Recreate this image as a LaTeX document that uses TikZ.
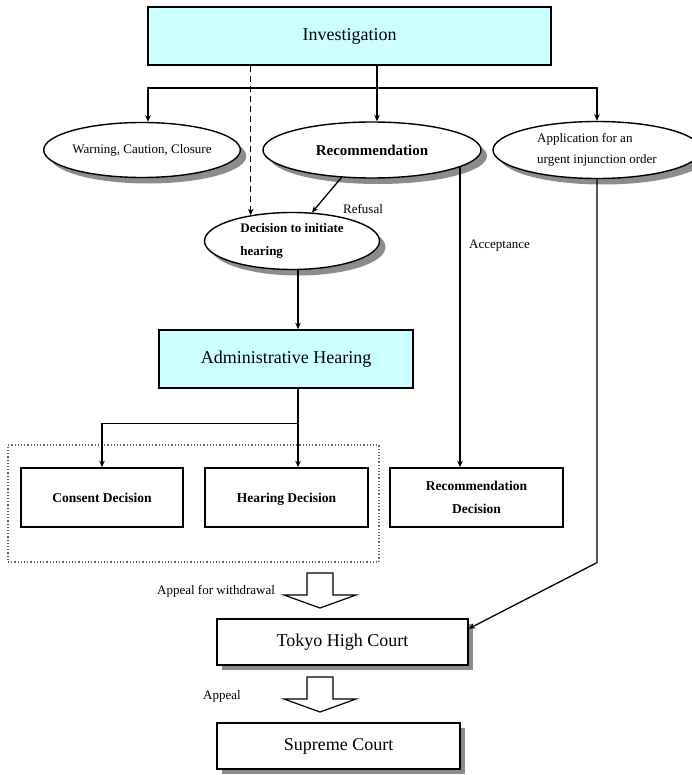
\documentclass[tikz,border=0pt]{standalone}
\usepackage{fontspec}
\setmainfont{Liberation Serif}
\usepackage{xcolor}
\usetikzlibrary{arrows.meta, positioning, shapes.geometric, shadows, calc}

\definecolor{stagecyan}{HTML}{CCFFFF}

\begin{document}
\begin{tikzpicture}[
  x=1pt, y=-1pt,
  arr/.style={-{Stealth[length=6.5pt, width=5.5pt]}, line width=1.3pt},
  box/.style={rectangle, draw, line width=1.5pt, inner sep=0pt, align=center},
  stage/.style={box, fill=stagecyan, font=\fontsize{18}{22}\selectfont},
  decbox/.style={box, font=\fontsize{13.5}{23}\selectfont\bfseries, minimum height=59pt},
  court/.style={box, fill=white, font=\fontsize{18}{22}\selectfont, minimum height=46pt,
    drop shadow={shadow xshift=5pt, shadow yshift=-5pt, fill=black!45, opacity=1}},
  oval/.style={ellipse, draw, line width=1.4pt, fill=white, inner sep=0pt, font=\fontsize{13}{21}\selectfont,
    drop shadow={shadow xshift=6pt, shadow yshift=-6pt, fill=black!45, opacity=1}},
  lbl/.style={inner sep=0pt, font=\fontsize{13}{15}\selectfont},
  blockarr/.style={draw, line width=1.2pt, fill=white, line join=miter}
]
\useasboundingbox (0,0) rectangle (691,775);

\node[stage, minimum width=403pt, minimum height=58pt] (inv) at (349.5,36) {Investigation};

\node[oval, minimum width=196pt, minimum height=55pt] (warn) at (142,150) {Warning, Caution, Closure};
\node[oval, minimum width=218pt, minimum height=56pt, font=\fontsize{15}{18}\selectfont\bfseries] (rec) at (372,150) {Recommendation};
\node[oval, minimum width=208pt, minimum height=57pt, align=left] (app) at (597,150) {Application for an\\urgent injunction order};
\node[oval, minimum width=175pt, minimum height=57pt, align=left, font=\fontsize{13}{23}\selectfont\bfseries] (dec) at (292,241) {Decision to initiate\\hearing};

\node[stage, minimum width=254pt, minimum height=58pt] (adm) at (286,359) {Administrative Hearing};

\node[draw=black!60, dotted, line width=1.2pt, minimum width=371pt, minimum height=117pt] (grp) at (193.5,503.5) {};
\node[decbox, minimum width=162pt] (cons) at (102,497.5) {Consent Decision\strut};
\node[decbox, minimum width=163pt] (hear) at (286.5,497.5) {Hearing Decision\strut};
\node[decbox, minimum width=173pt] (recdec) at (476.5,497.5) {Recommendation\\Decision};

\node[court, minimum width=251pt] (tokyo) at (342.5,642) {Tokyo High Court};
\node[court, minimum width=243pt] (sup) at (338.5,746) {Supreme Court};

\node[lbl, anchor=west] (refusal) at (343,209) {Refusal};
\node[lbl, anchor=west] (accept) at (469,246) {Acceptance};
\node[lbl, anchor=west] (withdraw) at (157,591) {Appeal for withdrawal};
\node[lbl, anchor=west] (appeal) at (203,696) {Appeal};

\coordinate (split) at (377,88);
\coordinate (spine) at (298,0);

\draw[line width=1.3pt] (inv.south -| split) -- (split);
\draw[arr] (split) -- (split |- rec.north);
\draw[arr] (split) -| ([xshift=6pt]warn.north);
\draw[arr] (split) -| (app.north);
\draw[arr, dash pattern=on 6pt off 4pt] (inv.south -| dec.148) -- (dec.148);
\draw[arr] (rec.222) -- (dec.55);
\draw[arr] (rec.-11) -- (rec.-11 |- recdec.north);
\draw[arr] (app.south) -- (app.south |- grp.south) -- ($(tokyo.north east)!0.22!(tokyo.south east)$);
\draw[arr] (dec.south -| spine) -- (adm.north -| spine);
\draw[arr] (adm.south -| spine) -- (hear.north -| spine);
\draw[arr] (adm.south -| spine) -- ++(0,35) -| (cons.north);

\foreach \t in {573,677}
  \draw[blockarr, shift={(0,\t)}] (307,0) -- (333,0) -- (333,22) -- (356,22) -- (320,35) -- (284,22) -- (307,22) -- cycle;
\end{tikzpicture}
\end{document}
